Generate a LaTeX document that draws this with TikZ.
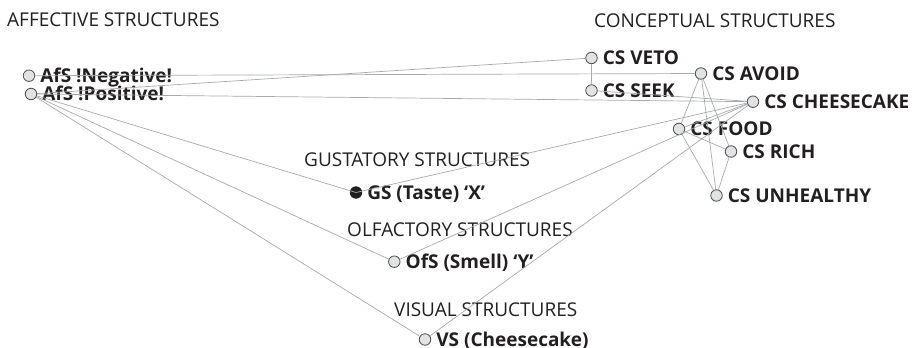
\documentclass[tikz,border=0pt]{standalone}
\usepackage{fontspec}
\setmainfont{Open Sans}
\definecolor{ink}{HTML}{231F20}
\definecolor{edgegray}{HTML}{A7A9AC}
\definecolor{dotfill}{HTML}{E1E2E3}
\definecolor{dotline}{HTML}{4D4D4F}

\tikzset{
  concept/.style={circle, draw=dotline, fill=dotfill, line width=0.8pt,
    minimum size=11.5pt, inner sep=0pt, label distance=0pt,
    label={[labeltext]right:#1}},
  labeltext/.style={text=ink, font=\fontsize{19}{21}\selectfont\bfseries,
    inner sep=0pt, xshift=5pt, text height=13.6pt, text depth=0pt},
  heading/.style={text=ink, font=\fontsize{19}{22}\selectfont, inner sep=0pt,
    text height=13.6pt, text depth=0pt, anchor=west},
  link/.style={draw=edgegray, line width=0.7pt},
}

\begin{document}
\begin{tikzpicture}[x=1pt, y=-1pt]
  \useasboundingbox (0,0) rectangle (916,348);

  % group headings
  \node[heading] (hAff) at (7,20)    {AFFECTIVE STRUCTURES};
  \node[heading] (hCon) at (594,21)  {CONCEPTUAL STRUCTURES};
  \node[heading] (hGus) at (304,160) {GUSTATORY STRUCTURES};
  \node[heading] (hOlf) at (347,230) {OLFACTORY STRUCTURES};
  \node[heading] (hVis) at (394,310) {VISUAL STRUCTURES};

  % affective structures
  \node[concept={AfS !Negative!}] (neg) at (29,75.7) {};
  \node[concept={AfS !Positive!}] (pos) at (31,94) {};

  % conceptual structures
  \node[concept={CS VETO}]       (veto)   at (591.5,58) {};
  \node[concept={CS SEEK}]       (seek)   at (591.5,90.5) {};
  \node[concept={CS AVOID}]      (avoid)  at (701,73.5) {};
  \node[concept={CS CHEESECAKE}] (cake)   at (753,101.7) {};
  \node[concept={CS FOOD}]       (food)   at (679,129) {};
  \node[concept={CS RICH}]       (rich)   at (731,151.5) {};
  \node[concept={CS UNHEALTHY}]  (unh)    at (716.5,195.5) {};

  % sensory structures
  \node[concept={OfS (Smell) ‘Y’}]  (ofs) at (394.3,261.7) {};
  \node[concept={VS (Cheesecake)}]  (vs)  at (425,339.5) {};

  % connectors
  \draw[link] (neg) -- (avoid);
  \draw[link] (pos) -- (veto);
  \draw[link] (pos) -- (cake);
  \draw[link] (pos) -- (ofs);
  \draw[link] (pos) -- (vs);
  \draw[link] (veto) -- (seek);
  \draw[link] (seek) -- (cake);
  \draw[link] (ofs) -- (cake);
  \draw[link] (vs) -- (cake);
  \draw[link] (food) -- (cake);
  \draw[link] (avoid) -- (food);
  \draw[link] (avoid) -- (rich);
  \draw[link] (avoid) -- (unh);
  \draw[link] (food) -- (rich);
  \draw[link] (food) -- (unh);
  \draw[link] (rich) -- (unh);

  % the taste node is solid, with its connectors running across it
  \node[concept={GS (Taste) ‘X’}, fill=ink, draw=ink] (gs) at (356,192.5) {};
  \draw[link] (pos) -- (gs.center) -- (cake);
\end{tikzpicture}
\end{document}
